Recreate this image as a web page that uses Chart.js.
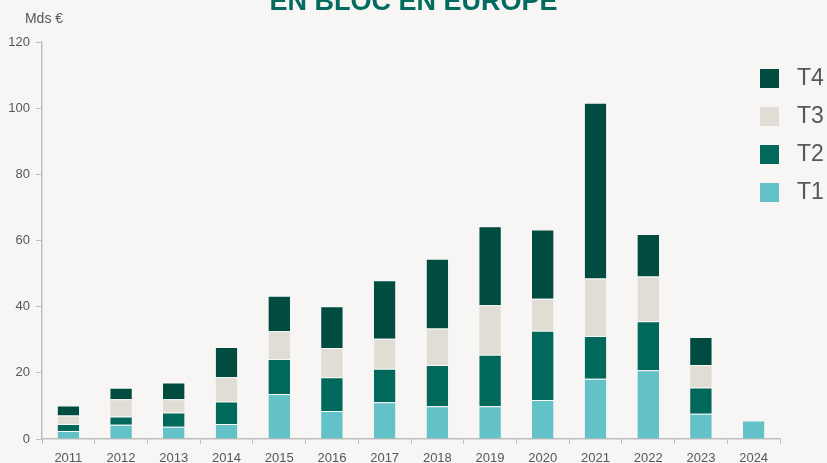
<!DOCTYPE html>
<html>
<head>
<meta charset="utf-8">
<script src="https://cdn.jsdelivr.net/npm/chart.js@4"></script>
<style>
  html, body { margin: 0; padding: 0; background: #f7f6f4; }
  #wrap { position: relative; width: 827px; height: 463px; overflow: hidden; }
  canvas { display: block; }
</style>
</head>
<body>
<div id="wrap"><canvas id="c" width="827" height="463"></canvas></div>
<script>
const categories = ['2011','2012','2013','2014','2015','2016','2017','2018','2019','2020','2021','2022','2023','2024'];
const t1 = [2.4, 4.3, 3.7, 4.5, 13.6, 8.5, 11.1, 9.9, 9.9, 11.8, 18.2, 20.8, 7.6, 5.6];
const t2 = [2.1, 2.5, 4.3, 6.8, 10.6, 10.2, 10.1, 12.5, 15.6, 20.9, 12.9, 14.8, 8.0, null];
const t3 = [2.6, 5.2, 4.0, 7.4, 8.4, 8.8, 9.1, 11.0, 14.9, 9.7, 17.4, 13.5, 6.8, null];
const t4 = [3.0, 3.5, 5.1, 9.1, 10.7, 12.6, 17.7, 21.1, 23.9, 20.9, 53.1, 12.9, 8.4, null];
const yTicks = [0, 20, 40, 60, 80, 100, 120];
const titleText = 'EN BLOC EN EUROPE';
const unitText = 'Mds €';

const FONT = "'Liberation Sans', Arial, sans-serif";
const axisColor = '#bdbdbd';
const textColor = '#575757';

const legendPlacer = {
  id: 'legendPlacer',
  afterLayout(chart) {
    const lg = chart.legend;
    if (!lg) return;
    const w = lg.width;
    lg.left = 745; lg.top = 52;
    lg.right = lg.left + w; lg.bottom = lg.top + 200;
    lg.height = 200;
  }
};

const unitLabel = {
  id: 'unitLabel',
  afterDraw(chart) {
    const ctx = chart.ctx;
    ctx.save();
    ctx.font = "14px " + FONT;
    ctx.fillStyle = textColor;
    ctx.textAlign = 'center';
    ctx.textBaseline = 'middle';
    ctx.fillText(unitText, chart.chartArea.left + 2, chart.chartArea.top - 23);
    ctx.restore();
  }
};

function ds(label, data, color) {
  return {
    label, data,
    backgroundColor: color,
    borderColor: 'rgba(255,255,255,0.35)',
    borderWidth: {top: 1, left: 0, right: 0, bottom: 0},
    borderSkipped: 'bottom',
    categoryPercentage: 1.0,
    barPercentage: 0.41
  };
}

new Chart(document.getElementById('c'), {
  type: 'bar',
  data: {
    labels: categories,
    datasets: [
      ds('T1', t1, '#63c2c7'),
      ds('T2', t2, '#00695c'),
      ds('T3', t3, '#e0ddd4'),
      ds('T4', t4, '#004c40')
    ]
  },
  options: {
    responsive: false,
    animation: false,
    layout: { padding: 0 },
    plugins: {
      tooltip: { enabled: false },
      title: {
        display: true,
        text: titleText,
        color: '#006b5e',
        font: { family: FONT, size: 27, weight: 'bold' },
        padding: { top: -14, bottom: 23.6 }
      },
      legend: {
        position: 'chartArea',
        align: 'start',
        reverse: true,
        labels: {
          boxWidth: 19,
          boxHeight: 19,
          padding: 15,
          color: textColor,
          font: { family: FONT, size: 23 },
          generateLabels(chart) {
            const items = Chart.defaults.plugins.legend.labels.generateLabels(chart);
            items.forEach(it => { it.text = ' ' + it.text; it.lineWidth = 0; });
            return items;
          }
        }
      }
    },
    scales: {
      x: {
        stacked: true,
        grid: { display: true, drawOnChartArea: false, drawTicks: true, tickLength: 5, color: axisColor, offset: true },
        border: { display: true, color: axisColor, width: 1.5 },
        ticks: { color: textColor, font: { family: FONT, size: 13 }, padding: 7, maxRotation: 0, autoSkip: false },
        afterFit(s) { s.height = 24; }
      },
      y: {
        stacked: true,
        min: 0, max: 120,
        afterBuildTicks(s) { s.ticks = yTicks.map(v => ({ value: v })); },
        grid: { display: true, drawOnChartArea: false, drawTicks: true, tickLength: 6, color: axisColor },
        border: { display: true, color: axisColor, width: 1.5 },
        ticks: { color: textColor, font: { family: FONT, size: 13 }, padding: 6 },
        afterFit(s) { s.width = 42; }
      },
      yRight: {
        position: 'right',
        display: true,
        grid: { display: false, drawTicks: false },
        border: { display: false },
        ticks: { display: false },
        afterFit(s) { s.width = 47; }
      }
    }
  },
  plugins: [legendPlacer, unitLabel]
});
</script>
</body>
</html>
